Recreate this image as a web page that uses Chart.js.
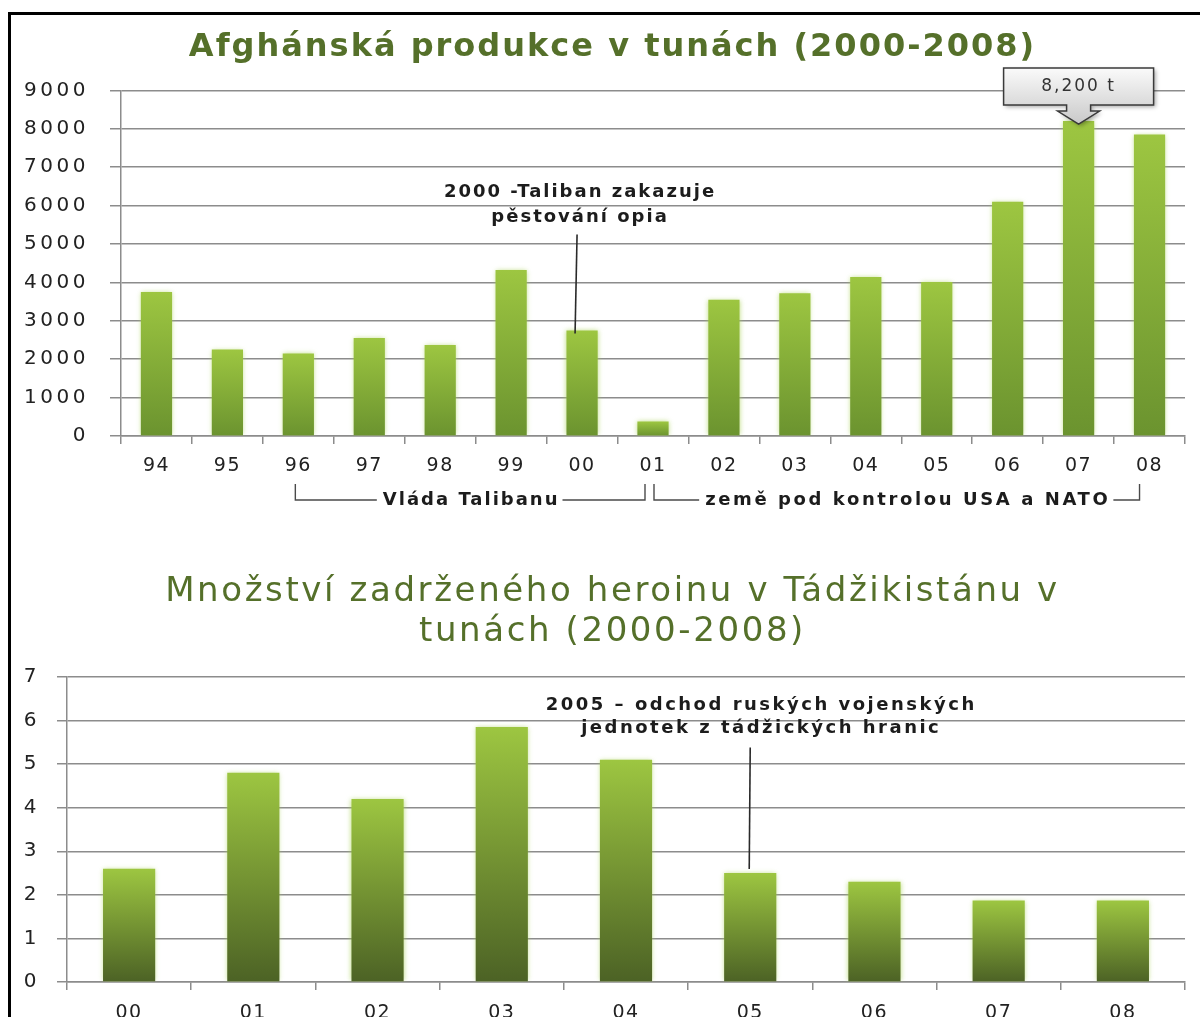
<!DOCTYPE html>
<html>
<head>
<meta charset="utf-8">
<script src="https://cdn.jsdelivr.net/npm/chart.js@4.4.1/dist/chart.umd.min.js"></script>
<style>
  html, body { margin: 0; padding: 0; background: #fff; }
  body { width: 1200px; height: 1017px; position: relative; overflow: hidden; }
  #frame { position: absolute; left: 8px; top: 12px; width: 1192px; height: 1005px;
           border-top: 3px solid #000; border-left: 3px solid #000; box-sizing: border-box; }
  #wrapTop { position: absolute; left: 0; top: 0; width: 1200px; height: 545px; }
  #wrapBottom { position: absolute; left: 0; top: 545px; width: 1200px; height: 472px; }
</style>
</head>
<body>
<div id="frame"></div>
<div id="wrapTop"><canvas id="topChart" width="1200" height="545"></canvas></div>
<div id="wrapBottom"><canvas id="bottomChart" width="1200" height="472"></canvas></div>
<script>
// ---------- data ----------
const topCategories = ['94','95','96','97','98','99','00','01','02','03','04','05','06','07','08'];
const topValues = [3750, 2250, 2150, 2550, 2370, 4320, 2750, 380, 3550, 3720, 4140, 4010, 6100, 8200, 7850];
const topTicks = [0, 1000, 2000, 3000, 4000, 5000, 6000, 7000, 8000, 9000];
const topTitle = 'Afghánská produkce v tunách (2000-2008)';
const topNote = ['2000 -Taliban zakazuje', 'pěstování opia'];
const calloutText = '8,200 t';
const periodLabels = ['Vláda Talibanu', 'země pod kontrolou USA a NATO'];

const bottomCategories = ['00','01','02','03','04','05','06','07','08'];
const bottomValues = [2.6, 4.8, 4.2, 5.85, 5.1, 2.5, 2.3, 1.87, 1.87];
const bottomTicks = [0, 1, 2, 3, 4, 5, 6, 7];
const bottomTitle = ['Množství zadrženého heroinu v Tádžikistánu v', 'tunách (2000-2008)'];
const bottomNote = ['2005 – odchod ruských vojenských', 'jednotek z tádžických hranic'];

// ---------- styling helpers ----------
const FONT = "'DejaVu Sans', sans-serif";
const GRID = '#8c8c8c';
const TITLE_COLOR = '#55702a';
const TITLE_LEFT = 40;

function gradientFill(topColor, bottomColor) {
  return function (ctx) {
    const chart = ctx.chart;
    if (!chart.chartArea || ctx.type !== 'data') return topColor;
    const y = chart.scales.y;
    const yTop = y.getPixelForValue(ctx.raw);
    const yBase = y.getPixelForValue(0);
    if (!isFinite(yTop) || !isFinite(yBase) || yTop === yBase) return topColor;
    const g = chart.ctx.createLinearGradient(0, yTop, 0, yBase);
    g.addColorStop(0, topColor);
    g.addColorStop(1, bottomColor);
    return g;
  };
}

function spacedLabels(spacing) {
  return function (scale) {
    if (!scale._spacedPatched) {
      const orig = scale.drawLabels;
      scale.drawLabels = function (area) {
        const c = this.ctx;
        const prev = c.letterSpacing;
        c.letterSpacing = spacing;
        orig.call(this, area);
        c.letterSpacing = prev;
      };
      scale._spacedPatched = true;
    }
  };
}

function makeGlow(titleSpacing) {
  return {
    id: 'glow',
    afterLayout(chart) {
      if (chart.titleBlock) chart.titleBlock.left = TITLE_LEFT;
    },
    beforeDraw(chart) { chart.ctx.letterSpacing = titleSpacing; },
    beforeDatasetsDraw(chart) {
      const c = chart.ctx;
      c.save();
      c.shadowColor = 'rgba(170,210,90,0.75)';
      c.shadowBlur = 5;
    },
    afterDatasetsDraw(chart) { chart.ctx.restore(); },
    afterDraw(chart) { chart.ctx.letterSpacing = '0px'; }
  };
}

function drawLinesOfText(c, lines, x, ys, font, color, spacing) {
  c.save();
  c.font = font;
  c.fillStyle = color;
  c.textAlign = 'center';
  c.textBaseline = 'middle';
  c.letterSpacing = spacing;
  lines.forEach((t, i) => c.fillText(t, x, ys[i]));
  c.restore();
}

const NOTE_FONT = `bold 18px ${FONT}`;
const NOTE_SPACING = '2px';

// ---------- top chart annotations ----------
const topAnnotations = {
  id: 'topAnnotations',
  afterDraw(chart) {
    const c = chart.ctx;
    const x = chart.scales.x, y = chart.scales.y;
    const area = chart.chartArea;

    // Taliban ban note
    const nx = x.getPixelForValue(6);
    drawLinesOfText(c, topNote, nx - 2, [y.getPixelForValue(6350), y.getPixelForValue(5700)], NOTE_FONT, '#1c1c1c', NOTE_SPACING);
    c.save();
    c.strokeStyle = '#2a2a2a';
    c.lineWidth = 1.6;
    c.beginPath();
    c.moveTo(nx - 5, y.getPixelForValue(5250));
    c.lineTo(nx - 7, y.getPixelForValue(topValues[6]) + 3);
    c.stroke();
    c.restore();

    // Callout for 2007
    const cx = x.getPixelForValue(13);
    const tip = y.getPixelForValue(topValues[13]) + 3;
    const bb = tip - 19, bt = bb - 37;
    const halfW = 75;
    c.save();
    c.beginPath();
    c.moveTo(cx - halfW, bt);
    c.lineTo(cx + halfW, bt);
    c.lineTo(cx + halfW, bb);
    c.lineTo(cx + 12, bb);
    c.lineTo(cx + 12, bb + 6);
    c.lineTo(cx + 21, bb + 6);
    c.lineTo(cx, tip);
    c.lineTo(cx - 21, bb + 6);
    c.lineTo(cx - 12, bb + 6);
    c.lineTo(cx - 12, bb);
    c.lineTo(cx - halfW, bb);
    c.closePath();
    const g = c.createLinearGradient(0, bt, 0, tip);
    g.addColorStop(0, '#fafafa');
    g.addColorStop(1, '#c9c9c9');
    c.shadowColor = 'rgba(0,0,0,0.35)';
    c.shadowBlur = 4;
    c.shadowOffsetX = 2;
    c.shadowOffsetY = 2;
    c.fillStyle = g;
    c.fill();
    c.shadowColor = 'transparent';
    c.strokeStyle = '#3a3a3a';
    c.lineWidth = 1.5;
    c.stroke();
    c.restore();
    drawLinesOfText(c, [calloutText], cx, [(bt + bb) / 2], `17px ${FONT}`, '#333', '2px');

    // Period brackets
    const yTopB = area.bottom + 48, yB = area.bottom + 64;
    const brackets = [
      { from: x.getPixelForValue(2) - 3, to: x.getPixelForValue(7) - 8, text: periodLabels[0], shift: 0, sp: '2px' },
      { from: x.getPixelForValue(7) + 1, to: x.getPixelForValue(14) - 10, text: periodLabels[1], shift: 10, sp: '2.6px' }
    ];
    c.save();
    c.font = NOTE_FONT;
    brackets.forEach(b => {
      c.letterSpacing = b.sp;
      const w = c.measureText(b.text).width;
      const mid = (b.from + b.to) / 2 + b.shift;
      c.strokeStyle = '#4a4a4a';
      c.lineWidth = 1.4;
      c.beginPath();
      c.moveTo(b.from, yTopB);
      c.lineTo(b.from, yB);
      c.lineTo(mid - w / 2 - 5, yB);
      c.moveTo(mid + w / 2 + 4, yB);
      c.lineTo(b.to, yB);
      c.lineTo(b.to, yTopB);
      c.stroke();
      c.fillStyle = '#1c1c1c';
      c.textAlign = 'center';
      c.textBaseline = 'middle';
      c.fillText(b.text, mid + 1, yB);
    });
    c.restore();
  }
};

// ---------- bottom chart annotations ----------
const bottomAnnotations = {
  id: 'bottomAnnotations',
  afterDraw(chart) {
    const c = chart.ctx;
    const x = chart.scales.x, y = chart.scales.y;
    const nx = x.getPixelForValue(5);
    drawLinesOfText(c, bottomNote, nx + 11, [y.getPixelForValue(6.35), y.getPixelForValue(5.82)], NOTE_FONT, '#1c1c1c', '2.5px');
    c.save();
    c.strokeStyle = '#2a2a2a';
    c.lineWidth = 1.6;
    c.beginPath();
    c.moveTo(nx, y.getPixelForValue(5.38));
    c.lineTo(nx - 1, y.getPixelForValue(bottomValues[5]) - 4);
    c.stroke();
    c.restore();
  }
};

// ---------- common chart builder ----------
function buildChart(id, cfg) {
  return new Chart(document.getElementById(id), {
    type: 'bar',
    data: {
      labels: cfg.labels,
      datasets: [{
        data: cfg.values,
        backgroundColor: gradientFill(cfg.topColor, cfg.bottomColor),
        borderWidth: 0,
        categoryPercentage: 1,
        barPercentage: cfg.barPct
      }]
    },
    options: {
      responsive: false,
      animation: false,
      devicePixelRatio: 1,
      layout: { padding: { left: 0, right: 15, top: 0, bottom: 0 } },
      plugins: {
        legend: { display: false },
        tooltip: { enabled: false },
        title: {
          display: true,
          text: cfg.title,
          color: TITLE_COLOR,
          font: { family: FONT, size: cfg.titleSize, weight: cfg.titleWeight, lineHeight: cfg.titleLH },
          padding: cfg.titlePad
        }
      },
      scales: {
        x: {
          grid: { display: true, drawOnChartArea: false, drawTicks: true, tickLength: 8, offset: true, color: GRID, lineWidth: 1.5 },
          border: { display: true, color: GRID, width: 1.5 },
          ticks: { color: '#222', font: { family: FONT, size: 19 }, padding: cfg.xPad, maxRotation: 0, autoSkip: false },
          afterFit(scale) { scale.height = cfg.xHeight; spacedLabels('1.5px')(scale); }
        },
        y: {
          min: 0,
          max: cfg.yMax,
          afterBuildTicks(scale) { scale.ticks = cfg.ticks.map(v => ({ value: v })); },
          grid: { color: GRID, lineWidth: 1.5, tickLength: cfg.yTick, drawTicks: true },
          border: { display: true, color: GRID, width: 1.5 },
          ticks: { color: '#222', font: { family: FONT, size: 20 }, padding: cfg.yPad, callback: v => String(v) },
          afterFit(scale) { scale.width = cfg.yAxisX; spacedLabels('3.5px')(scale); }
        }
      }
    },
    plugins: [makeGlow(cfg.titleSpacing), cfg.annotations]
  });
}

buildChart('topChart', {
  labels: topCategories, values: topValues, ticks: topTicks, yMax: 9000,
  topColor: '#9dc641', bottomColor: '#6b932f', barPct: 0.44,
  title: topTitle, titleSize: 32, titleWeight: 'bold', titleLH: 1.2, titleSpacing: '2px',
  titlePad: { top: 28, bottom: 24 },
  xHeight: 109, xPad: 11, yAxisX: 121, yTick: 11, yPad: 21,
  annotations: topAnnotations
});

buildChart('bottomChart', {
  labels: bottomCategories, values: bottomValues, ticks: bottomTicks, yMax: 7,
  topColor: '#9dc641', bottomColor: '#4c6225', barPct: 0.42,
  title: bottomTitle, titleSize: 34, titleWeight: 'normal', titleLH: 1.1765, titleSpacing: '2.6px',
  titlePad: { top: 27, bottom: 25 },
  xHeight: 35, xPad: 12, yAxisX: 67, yTick: 10, yPad: 17,
  annotations: bottomAnnotations
});
</script>
</body>
</html>
